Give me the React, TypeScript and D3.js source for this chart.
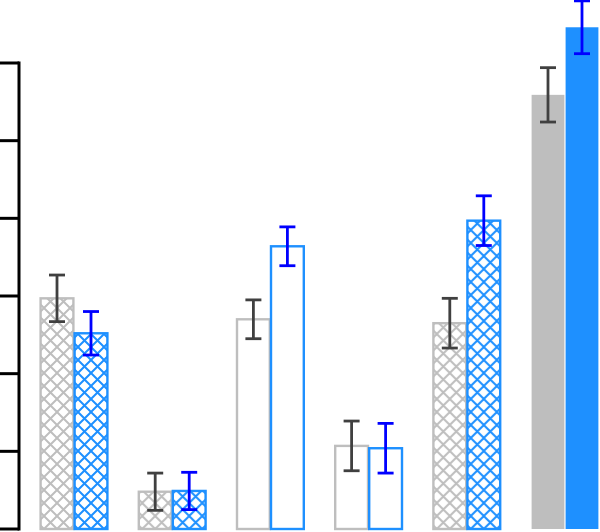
import * as d3 from "d3";

// ── Data ──────────────────────────────────────────────────────
const GROUPS = ["A", "B", "C", "D", "E", "F"];
const SERIES = ["gray", "blue"];
const GRAY_VALUES = [2.97, 0.48, 2.7, 1.07, 2.65, 5.59];
const BLUE_VALUES = [2.52, 0.49, 3.64, 1.04, 3.97, 6.46];
const GRAY_ERR = [0.3, 0.24, 0.25, 0.32, 0.32, 0.35];
const BLUE_ERR = [0.28, 0.24, 0.25, 0.32, 0.32, 0.34];
// fill style per group: hatched, outlined (empty) or solid
const FILL_STYLE = ["hatch", "hatch", "open", "open", "hatch", "solid"];
const Y_TICKS = [0, 1, 2, 3, 4, 5, 6];

const W = 600;
const H = 532;

const BAR_COL = ["#bebebe", "#1e90ff"];
const ERR_COL = ["#404040", "#0000ff"];
const HATCH = 13;

export default function App() {
  const y = d3.scaleLinear().domain([0, 6]).range([529, 63]);
  const x = d3.scaleBand<string>().domain(GROUPS).range([40, 599]).paddingInner(0.3075).paddingOuter(0);
  const xs = d3.scaleBand<string>().domain(SERIES).range([0, x.bandwidth()]).padding(0);
  const bw = xs.bandwidth();

  const vals = [GRAY_VALUES, BLUE_VALUES];
  const errs = [GRAY_ERR, BLUE_ERR];

  const bars = GROUPS.flatMap((g, gi) =>
    SERIES.map((s, si) => ({
      id: `${g}-${s}`,
      x0: (x(g) ?? 0) + (xs(s) ?? 0),
      v: vals[si][gi],
      e: errs[si][gi],
      si,
      style: FILL_STYLE[gi],
    }))
  );

  return (
    <svg width={W} height={H} style={{ position: "absolute", left: 0, top: 0, background: "#fff" }}>
      <defs>
        {bars
          .filter((b) => b.style === "hatch")
          .map((b) => (
            <pattern
              key={b.id}
              id={`hatch-${b.id}`}
              patternUnits="userSpaceOnUse"
              x={b.x0 + (bw - HATCH * 2) / 2}
              y={y(0)}
              width={HATCH}
              height={HATCH}
            >
              <path
                d={`M-1,-1L${HATCH + 1},${HATCH + 1}M${HATCH + 1},-1L-1,${HATCH + 1}`}
                stroke={BAR_COL[b.si]}
                strokeWidth={2}
                fill="none"
              />
            </pattern>
          ))}
      </defs>

      {/* Bars */}
      {bars.map((b) => (
        <rect
          key={b.id}
          x={b.x0 + 0.6}
          y={y(b.v)}
          width={bw - 1.2}
          height={y(0) - y(b.v)}
          fill={b.style === "solid" ? BAR_COL[b.si] : b.style === "hatch" ? `url(#hatch-${b.id})` : "#fff"}
          stroke={b.style === "solid" ? "none" : BAR_COL[b.si]}
          strokeWidth={2.4}
        />
      ))}

      {/* Error bars */}
      {bars.map((b) => {
        const cx = b.x0 + bw / 2;
        return (
          <g key={`err-${b.id}`} stroke={ERR_COL[b.si]} strokeWidth={2.8} fill="none">
            <line x1={cx} x2={cx} y1={y(b.v + b.e)} y2={y(b.v - b.e)} />
            <line x1={cx - 8} x2={cx + 8} y1={y(b.v + b.e)} y2={y(b.v + b.e)} />
            <line x1={cx - 8} x2={cx + 8} y1={y(b.v - b.e)} y2={y(b.v - b.e)} />
          </g>
        );
      })}

      {/* Y axis */}
      <g stroke="#000" strokeWidth={3} fill="none">
        <line x1={19} x2={19} y1={y(6)} y2={y(0)} strokeLinecap="square" />
        {Y_TICKS.map((t) => (
          <line key={t} x1={-10} x2={19} y1={y(t)} y2={y(t)} />
        ))}
      </g>
    </svg>
  );
}
